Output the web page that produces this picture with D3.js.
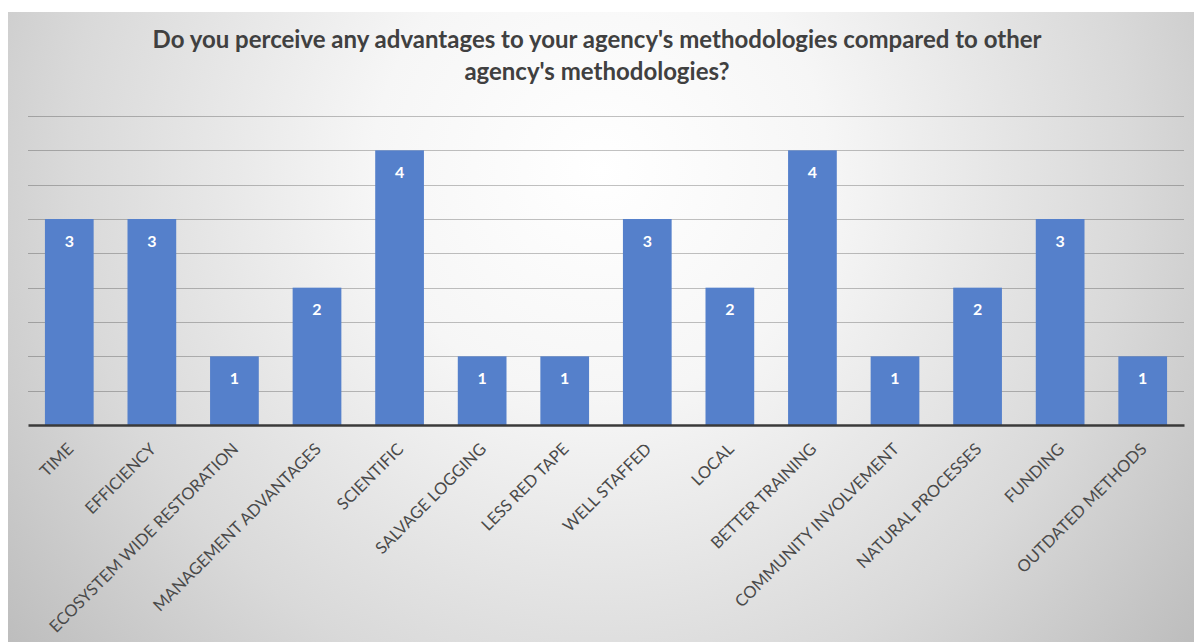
<!DOCTYPE html>
<html>
<head>
<meta charset="utf-8">
<script src="https://cdn.jsdelivr.net/npm/d3@7"></script>
<style>
  html, body { margin: 0; padding: 0; background: #ffffff; }
  svg { display: block; }
</style>
</head>
<body>
<svg id="chart" width="1194" height="642"></svg>
<script>
// Survey responses: perceived advantages of the agency's methodologies
const categories = [
  "TIME", "EFFICIENCY", "ECOSYSTEM WIDE RESTORATION", "MANAGEMENT ADVANTAGES",
  "SCIENTIFIC", "SALVAGE LOGGING", "LESS RED TAPE", "WELL STAFFED", "LOCAL",
  "BETTER TRAINING", "COMMUNITY INVOLVEMENT", "NATURAL PROCESSES", "FUNDING",
  "OUTDATED METHODS"
];
const counts = [3, 3, 1, 2, 4, 1, 1, 3, 2, 4, 1, 2, 3, 1];
const gridValues = [0.5, 1, 1.5, 2, 2.5, 3, 3.5, 4, 4.5];
const titleLines = [
  "Do you perceive any advantages to your agency's methodologies compared to other",
  "agency's methodologies?"
];

const W = 1194, H = 642;
const svg = d3.select("#chart");

// Chart area background with soft radial shading
const defs = svg.append("defs");
const grad = defs.append("radialGradient")
  .attr("id", "bgGrad")
  .attr("gradientUnits", "userSpaceOnUse")
  .attr("cx", 600).attr("cy", 170).attr("r", 760);
grad.append("stop").attr("offset", 0).attr("stop-color", "#ffffff");
grad.append("stop").attr("offset", 0.3).attr("stop-color", "#f6f6f6");
grad.append("stop").attr("offset", 0.7).attr("stop-color", "#d9d9d9");
grad.append("stop").attr("offset", 1).attr("stop-color", "#bdbdbd");

svg.append("rect")
  .attr("x", 8).attr("y", 12)
  .attr("width", W - 8).attr("height", H - 12)
  .attr("fill", "url(#bgGrad)");

const plot = { left: 28, right: 1184, top: 116, bottom: 425 };

const x = d3.scaleBand()
  .domain(categories)
  .range([plot.left, plot.right])
  .paddingInner(0.41)
  .paddingOuter(0.205);

const y = d3.scaleLinear()
  .domain([0, 4.5])
  .range([plot.bottom, plot.top]);

// Horizontal gridlines
svg.append("g")
  .selectAll("line")
  .data(gridValues)
  .join("line")
  .attr("x1", plot.left).attr("x2", plot.right)
  .attr("y1", d => Math.round(y(d)) + 0.5)
  .attr("y2", d => Math.round(y(d)) + 0.5)
  .attr("stroke", "rgba(0,0,0,0.24)")
  .attr("stroke-width", 1);

// Bars
svg.append("g")
  .selectAll("rect")
  .data(categories)
  .join("rect")
  .attr("x", d => x(d))
  .attr("y", (d, i) => y(counts[i]))
  .attr("width", x.bandwidth())
  .attr("height", (d, i) => y(0) - y(counts[i]))
  .attr("fill", "#5580cb");

// Category axis line and rotated labels
const xAxis = d3.axisBottom(x).tickSize(0).tickPadding(0);
const axisG = svg.append("g")
  .attr("transform", `translate(0,${plot.bottom})`)
  .call(xAxis);
axisG.select(".domain")
  .attr("stroke", "#3a3a3a")
  .attr("stroke-width", 2.5);
axisG.selectAll(".tick text")
  .attr("font-family", "Lato, 'Open Sans', sans-serif")
  .attr("font-size", 16.5)
  .attr("fill", "#4a4a4a")
  .attr("text-anchor", "end")
  .attr("dy", "0.35em")
  .attr("transform", "translate(1,21) rotate(-45)");

// Value labels inside bars
svg.append("g")
  .selectAll("text")
  .data(categories)
  .join("text")
  .attr("x", d => x(d) + x.bandwidth() / 2)
  .attr("y", (d, i) => y(counts[i]) + 22)
  .attr("dy", "0.35em")
  .attr("text-anchor", "middle")
  .attr("font-family", "Lato, 'Open Sans', sans-serif")
  .attr("font-weight", "bold")
  .attr("font-size", 16)
  .attr("fill", "#ffffff")
  .text((d, i) => counts[i]);

// Title
svg.append("g")
  .selectAll("text")
  .data(titleLines)
  .join("text")
  .attr("x", 597)
  .attr("y", (d, i) => 48 + i * 32)
  .attr("text-anchor", "middle")
  .attr("font-family", "Lato, 'Open Sans', sans-serif")
  .attr("font-weight", "bold")
  .attr("font-size", 24)
  .attr("fill", "#404040")
  .text(d => d);
</script>
</body>
</html>
